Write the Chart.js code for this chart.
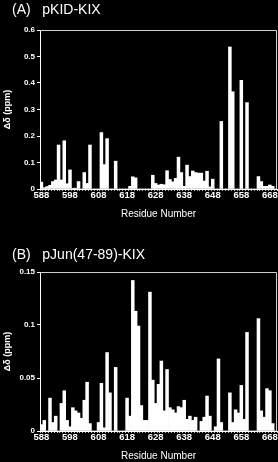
<!DOCTYPE html>
<html>
<head>
<meta charset="utf-8">
<script src="https://cdn.jsdelivr.net/npm/chart.js@4.4.1/dist/chart.umd.min.js"></script>
<style>
html, body { margin: 0; padding: 0; background: #000; }
body { width: 278px; height: 462px; position: relative; overflow: hidden; font-family: "Liberation Sans", Arial, sans-serif; color: #fff; }
.panel { position: absolute; left: 0; width: 278px; height: 222px; }
.title { position: absolute; left: 12px; font-size: 14px; line-height: 1; white-space: pre; z-index: 2; }
</style>
</head>
<body>
<div class="panel" style="top:0"><canvas id="chartA"></canvas></div>
<div class="panel" style="top:240px"><canvas id="chartB"></canvas></div>
<div class="title" style="top:2px">(A)   pKID-KIX</div>
<div class="title" style="top:247px">(B)   pJun(47-89)-KIX</div>
<script>
// residue numbers on the x axis
var residues = [588, 589, 590, 591, 592, 593, 594, 595, 596, 597,
    598, 599, 600, 601, 602, 603, 604, 605, 606, 607,
    608, 609, 610, 611, 612, 613, 614, 615, 616, 617,
    618, 619, 620, 621, 622, 623, 624, 625, 626, 627,
    628, 629, 630, 631, 632, 633, 634, 635, 636, 637,
    638, 639, 640, 641, 642, 643, 644, 645, 646, 647,
    648, 649, 650, 651, 652, 653, 654, 655, 656, 657,
    658, 659, 660, 661, 662, 663, 664, 665, 666, 667,
    668, 669, 670];

// (A) pKID-KIX chemical shift changes, ppm
var shiftA = [0.026, 0.005, 0.009, 0.014, 0.028, 0.034, 0.166, 0.034, 0.182, 0.02,
    0.072, 0.003, 0.003, 0.028, 0, 0.062, 0.021, 0.166, 0, 0,
    0, 0.213, 0.092, 0.19, 0, 0, 0.105, 0, 0, 0,
    0, 0.01, 0.046, 0.042, 0, 0, 0, 0, 0, 0.052,
    0.021, 0.015, 0.018, 0.016, 0.069, 0.036, 0.027, 0.04, 0.12, 0.062,
    0.01, 0.09, 0.047, 0.068, 0.062, 0.06, 0.06, 0.03, 0.067, 0.008,
    0.037, 0, 0, 0.255, 0, 0, 0.536, 0.367, 0, 0,
    0.41, 0, 0.326, 0, 0, 0, 0.047, 0.028, 0.01, 0.01,
    0.015, 0.01, 0];

// (B) pJun(47-89)-KIX chemical shift changes, ppm
var shiftB = [0.006, 0.01, 0, 0.031, 0.008, 0.014, 0, 0.026, 0.038, 0.01,
    0.004, 0.022, 0.019, 0.017, 0.012, 0.029, 0.046, 0.007, 0, 0,
    0.008, 0.045, 0.003, 0.074, 0.036, 0, 0.06, 0, 0, 0,
    0.031, 0.014, 0.142, 0.113, 0.099, 0.024, 0.01, 0.01, 0.131, 0.048,
    0.026, 0.044, 0.066, 0.019, 0.058, 0.022, 0.02, 0.017, 0.023, 0.022,
    0.029, 0.011, 0.014, 0.01, 0.013, 0, 0.009, 0.013, 0.033, 0.014,
    0, 0.004, 0.068, 0.008, 0, 0, 0.036, 0.008, 0.02, 0.017,
    0.043, 0.011, 0.093, 0, 0, 0, 0.106, 0.019, 0.013, 0.04,
    0.038, 0.007, 0];

var yTicksA = [0, 0.1, 0.2, 0.3, 0.4, 0.5, 0.6];
var yTicksB = [0, 0.05, 0.1, 0.15];

// thin box round the plot area (top and right edges)
var framePlugin = {
    id: "frame",
    afterDatasetsDraw: function (chart) {
        var a = chart.chartArea, c = chart.ctx;
        c.save();
        c.strokeStyle = "#d0d0d0";
        c.lineWidth = 1;
        c.beginPath();
        c.moveTo(a.left, a.top + 0.5);
        c.lineTo(a.right - 0.5, a.top + 0.5);
        c.lineTo(a.right - 0.5, a.bottom);
        c.stroke();
        c.restore();
    }
};

function makeChart(id, values, yTicks, topPad, xHeight, titlePad) {
    return new Chart(document.getElementById(id), {
        type: "bar",
        data: {
            labels: residues,
            datasets: [{
                data: values,
                backgroundColor: "#fff",
                borderWidth: 0,
                barPercentage: 1,
                categoryPercentage: 1
            }]
        },
        options: {
            responsive: true,
            maintainAspectRatio: false,
            animation: false,
            events: [],
            layout: { padding: { top: topPad, right: 1, left: 0, bottom: 0 } },
            plugins: { legend: { display: false }, tooltip: { enabled: false } },
            scales: {
                x: {
                    grid: { drawOnChartArea: false, tickLength: 2, color: "#bbb" },
                    border: { color: "#fff" },
                    ticks: {
                        autoSkip: false,
                        maxRotation: 0,
                        color: "#fff",
                        padding: 0,
                        font: { family: "Liberation Sans", size: 9.5, weight: "bold", lineHeight: 1 },
                        callback: function (v, i) {
                            return (residues[i] - 588) % 10 === 0 ? String(residues[i]) : "";
                        }
                    },
                    title: {
                        display: true,
                        text: "Residue Number",
                        color: "#fff",
                        font: { family: "Liberation Sans", size: 10 },
                        padding: { top: 0, bottom: titlePad }
                    },
                    afterFit: function (s) { s.height = xHeight; }
                },
                y: {
                    min: yTicks[0],
                    max: yTicks[yTicks.length - 1],
                    afterBuildTicks: function (s) {
                        s.ticks = yTicks.map(function (v) { return { value: v }; });
                    },
                    grid: { drawOnChartArea: false, tickLength: 3, color: "#fff" },
                    border: { color: "#fff" },
                    ticks: {
                        color: "#fff",
                        padding: 2,
                        font: { family: "Liberation Sans", size: 8, weight: "bold" },
                        callback: function (v) { return String(v); }
                    },
                    title: {
                        display: true,
                        text: "Δδ (ppm)",
                        color: "#fff",
                        font: { family: "Liberation Sans", size: 9, weight: "bold" },
                        padding: { top: 2.6, bottom: 0 }
                    },
                    afterFit: function (s) { s.width = 40; }
                }
            }
        },
        plugins: [framePlugin]
    });
}

var chartA = makeChart("chartA", shiftA, yTicksA, 30, 33, 2);
var chartB = makeChart("chartB", shiftB, yTicksB, 32, 31, 0);
</script>
</body>
</html>
